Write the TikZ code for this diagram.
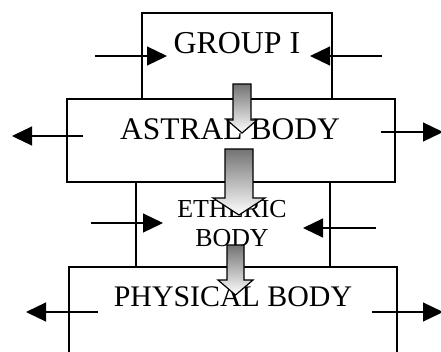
\documentclass[tikz,border=0pt]{standalone}
\usepackage{fontspec}
\setmainfont{Liberation Serif}
\usetikzlibrary{arrows.meta}
\begin{document}
\begin{tikzpicture}[x=1bp,y=-1bp,
  box/.style={draw,line width=1.2bp,inner sep=0pt,minimum width=#1},
  lbl/.style={inner sep=0pt,anchor=base},
  side/.style={line width=1.2bp,-{Triangle[length=20bp,width=19bp]}},
  blk/.style={draw,line width=1.2bp,top color=black!55,bottom color=white}]
\path[use as bounding box] (0,0) rectangle (441,351);
\clip (0,0) rectangle (441,351);
% boxes
\node[box=190bp,minimum height=86bp] (g) at (237,56) {};
\node[box=328bp,minimum height=83bp] (a) at (231,140.5) {};
\node[box=194bp,minimum height=85bp] (e) at (233,224.5) {};
\node[box=328bp,minimum height=133bp] (p) at (233,333.5) {};
% texts
\node[lbl,font=\fontsize{32}{38}\selectfont] (tg) at (237,53) {GROUP I};
\node[lbl,font=\fontsize{31.6}{38}\selectfont] (ta) at (230,139) {ASTRAL BODY};
\node[lbl,font=\fontsize{26}{29}\selectfont,align=center] (te) at (232,246) {ETHERIC\\BODY};
\node[lbl,font=\fontsize{30}{36}\selectfont] (tp) at (233,306) {PHYSICAL BODY};
% side arrows
\coordinate (g1) at (95,56);   \coordinate (g1t) at (167,56);
\coordinate (g2) at (382,56);  \coordinate (g2t) at (310,56);
\coordinate (a1) at (83,136);  \coordinate (a1t) at (12,136);
\coordinate (a2) at (381,132); \coordinate (a2t) at (443,132);
\coordinate (e1) at (91,223);  \coordinate (e1t) at (163,223);
\coordinate (e2) at (376,228); \coordinate (e2t) at (303,228);
\coordinate (p1) at (98,312);  \coordinate (p1t) at (26,312);
\coordinate (p2) at (372,312); \coordinate (p2t) at (443,312);
\draw[side] (g1) -- (g1t);
\draw[side] (g2) -- (g2t);
\draw[side] (a1) -- (a1t);
\draw[side] (a2) -- (a2t);
\draw[side] (e1) -- (e1t);
\draw[side] (e2) -- (e2t);
\draw[side] (p1) -- (p1t);
\draw[side] (p2) -- (p2t);
% block arrows
\draw[blk] (233,84) -- (251,84) -- (251,120) -- (257,120) -- (242,133) -- (227,120) -- (233,120) -- cycle;
\draw[blk] (225,149) -- (253,149) -- (253,198) -- (265,198) -- (239,215) -- (213,198) -- (225,198) -- cycle;
\draw[blk] (227,245) -- (244,245) -- (244,280) -- (253,280) -- (235.5,295) -- (218,280) -- (227,280) -- cycle;
\end{tikzpicture}
\end{document}
